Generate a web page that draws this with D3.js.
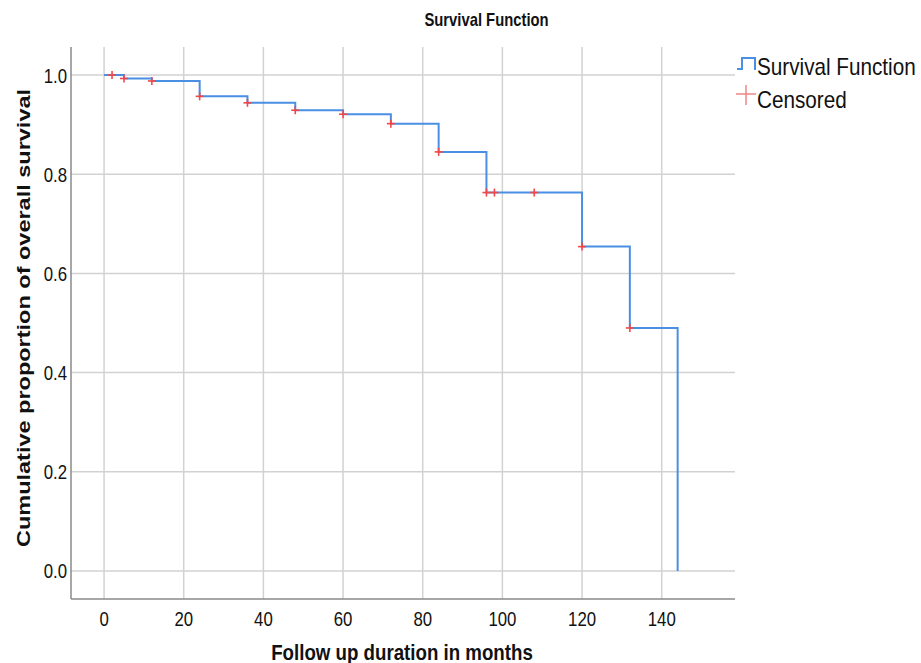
<!DOCTYPE html>
<html>
<head>
<meta charset="utf-8">
<script src="https://cdn.jsdelivr.net/npm/d3@7"></script>
<style>
    body { margin: 0; background: #fff; }
    svg { display: block; }
    text { font-family: "Liberation Sans", Arial, sans-serif; fill: #111; }
</style>
</head>
<body>
<svg id="chart" width="921" height="663"></svg>
<script>
// Kaplan-Meier steps (time in months, cumulative survival after the drop)
var stepTimes = [0, 5, 12, 24, 36, 48, 60, 72, 84, 96, 120, 132, 144];
var survival  = [1.0, 0.993, 0.988, 0.957, 0.944, 0.929, 0.921, 0.902, 0.845, 0.763, 0.654, 0.490, 0.0];
// censored observations
var censorTimes = [2, 5, 12, 24, 36, 48, 60, 72, 84, 96, 98, 108, 120, 132];
var xTicks = [0, 20, 40, 60, 80, 100, 120, 140];
var yTicks = [0.0, 0.2, 0.4, 0.6, 0.8, 1.0];
var legendLabels = ["Survival Function", "Censored"];

function drawChart(){
    var svg = d3.select("#chart");
    var left = 71, right = 735, plotTop = 47, bottom = 599;

    var x = d3.scaleLinear().domain([-8.3, 158.4]).range([left, right]);
    var y = d3.scaleLinear().domain([-0.0565, 1.0565]).range([bottom, plotTop]);

    // text squeezed horizontally like the source picture
    function label(g, px, py, str, opts){
        return g.append("text")
            .attr("transform", "translate(" + px + "," + py + ") scale(" + (opts.sx || 1) + ",1)" + (opts.rotate ? " rotate(" + opts.rotate + ")" : ""))
            .attr("text-anchor", opts.anchor || "start")
            .style("font-size", opts.size + "px")
            .style("font-weight", opts.bold ? "bold" : "normal")
            .text(str);
    }

    // grid
    var grid = svg.append("g").attr("stroke", "#d2d2d2").attr("stroke-width", 1.5);
    grid.selectAll("line.gy").data(yTicks).enter().append("line")
        .attr("x1", left).attr("x2", right)
        .attr("y1", function(d){ return y(d); }).attr("y2", function(d){ return y(d); });
    grid.selectAll("line.gx").data(xTicks).enter().append("line")
        .attr("x1", function(d){ return x(d); }).attr("x2", function(d){ return x(d); })
        .attr("y1", plotTop).attr("y2", bottom);

    // axis lines
    svg.append("line").attr("x1", left).attr("x2", left).attr("y1", plotTop).attr("y2", bottom)
        .attr("stroke", "#8a8a8a").attr("stroke-width", 1.5);
    svg.append("line").attr("x1", left).attr("x2", right).attr("y1", bottom).attr("y2", bottom)
        .attr("stroke", "#8a8a8a").attr("stroke-width", 1.5);

    // tick labels
    var labels = svg.append("g");
    yTicks.forEach(function(d){
        label(labels, 67, y(d) + 7.5, d3.format(".1f")(d), {size: 21, sx: 0.8, anchor: "end"});
    });
    xTicks.forEach(function(d){
        label(labels, x(d), 626, d, {size: 21, sx: 0.8, anchor: "middle"});
    });

    // titles
    label(svg, 486.5, 26, "Survival Function", {size: 18.5, sx: 0.8, anchor: "middle", bold: true});
    label(svg, 402, 660, "Follow up duration in months", {size: 22, sx: 0.85, anchor: "middle", bold: true});
    label(svg, 30, 318, "Cumulative proportion of overall survival", {size: 23.5, sx: 0.8, anchor: "middle", bold: true, rotate: -90});

    // survival curve
    var pts = stepTimes.map(function(t, i){ return [t, survival[i]]; });
    var line = d3.line()
        .x(function(d){ return x(d[0]); })
        .y(function(d){ return y(d[1]); })
        .curve(d3.curveStepAfter);
    svg.append("path").datum(pts)
        .attr("d", line)
        .attr("fill", "none")
        .attr("stroke", "#4a8fe3")
        .attr("stroke-width", 2);

    function survivalAt(t){
        var s = 1;
        for(var i = 0; i < stepTimes.length; i++){
            if(stepTimes[i] <= t){ s = survival[i]; }
        }
        return s;
    }

    // censor marks
    var arm = 4;
    var marks = svg.append("g").attr("stroke", "#f24848").attr("stroke-width", 1.6);
    censorTimes.forEach(function(t){
        var cx = x(t), cy = y(survivalAt(t));
        marks.append("line").attr("x1", cx - arm).attr("x2", cx + arm).attr("y1", cy).attr("y2", cy);
        marks.append("line").attr("x1", cx).attr("x2", cx).attr("y1", cy - arm).attr("y2", cy + arm);
    });

    // legend
    var legend = svg.append("g");
    legend.append("path")
        .attr("d", "M737,69H742V58H755V70")
        .attr("fill", "none").attr("stroke", "#4a8fe3").attr("stroke-width", 2);
    legend.append("line").attr("x1", 736).attr("x2", 756).attr("y1", 94).attr("y2", 94)
        .attr("stroke", "#f08585").attr("stroke-width", 1.5);
    legend.append("line").attr("x1", 746).attr("x2", 746).attr("y1", 85).attr("y2", 105)
        .attr("stroke", "#f08585").attr("stroke-width", 1.5);
    legendLabels.forEach(function(d, i){
        label(legend, 757, 75 + i * 33, d, {size: 23, sx: 0.9});
    });
}

drawChart();
</script>
</body>
</html>
